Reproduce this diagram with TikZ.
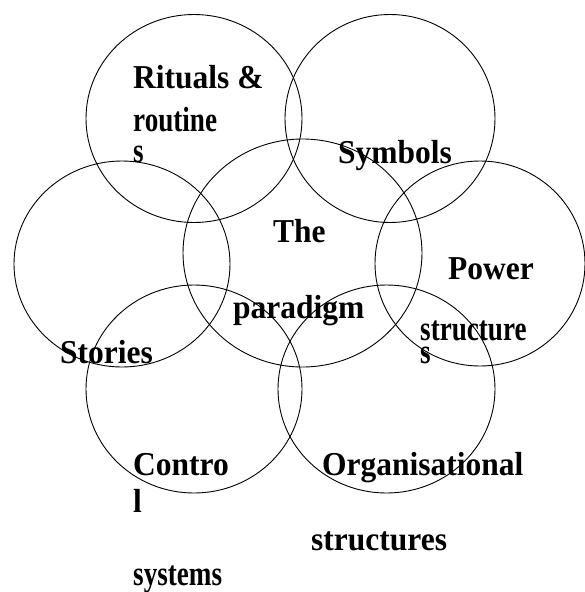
\documentclass[tikz,border=0pt]{standalone}
\usepackage{fontspec}
\usepackage{graphicx}
\setmainfont{Liberation Serif}
\newcommand{\narrowtxt}[1]{\scalebox{0.775}[1]{#1}}
\newcommand{\talltxt}[1]{\scalebox{1}[1.06]{#1}}
\begin{document}
\begin{tikzpicture}[x=1pt,y=-1pt,
  ring/.style={draw=black,line width=0.9pt},
  big/.style={anchor=base west,inner sep=0pt,font=\bfseries\fontsize{31.5}{31.5}\selectfont},
  small/.style={anchor=base west,inner sep=0pt,font=\bfseries\fontsize{35}{35}\selectfont}]
\useasboundingbox (0,0) rectangle (585,592);
% circles
\draw[ring] (194,118.5) ellipse [x radius=108,y radius=104];
\draw[ring] (390,118.5) ellipse [x radius=105,y radius=104];
\draw[ring] (302.5,253) ellipse [x radius=119.5,y radius=114];
\draw[ring] (122,264) ellipse [x radius=108,y radius=103];
\draw[ring] (480,263.5) ellipse [x radius=105,y radius=102.5];
\draw[ring] (194,389) ellipse [x radius=108,y radius=104];
\draw[ring] (386.5,389) ellipse [x radius=108.5,y radius=104];
% labels
\node[big] (rit1) at (133,88) {\talltxt{Rituals \&}};
\node[small] (rit2) at (133,131) {\narrowtxt{routine}};
\node[small] (rit3) at (133,162) {\narrowtxt{s}};
\node[big] (sym) at (338,163) {\talltxt{Symbols}};
\node[big] (the) at (273,242) {\talltxt{The}};
\node[big] (par) at (233,318) {\talltxt{paradigm}};
\node[big] (pow) at (448,279) {\talltxt{Power}};
\node[small] (str1) at (420,340) {\narrowtxt{structure}};
\node[small] (str2) at (420,363) {\narrowtxt{s}};
\node[big] (sto) at (60,363) {\talltxt{Stories}};
\node[big] (con1) at (133,475) {\talltxt{Contro}};
\node[big] (con2) at (133,512) {\talltxt{l}};
\node[small] (con3) at (133,585) {\narrowtxt{systems}};
\node[big] (org1) at (322,475) {\talltxt{Organisational}};
\node[big] (org2) at (311,550) {\talltxt{structures}};
\end{tikzpicture}
\end{document}
